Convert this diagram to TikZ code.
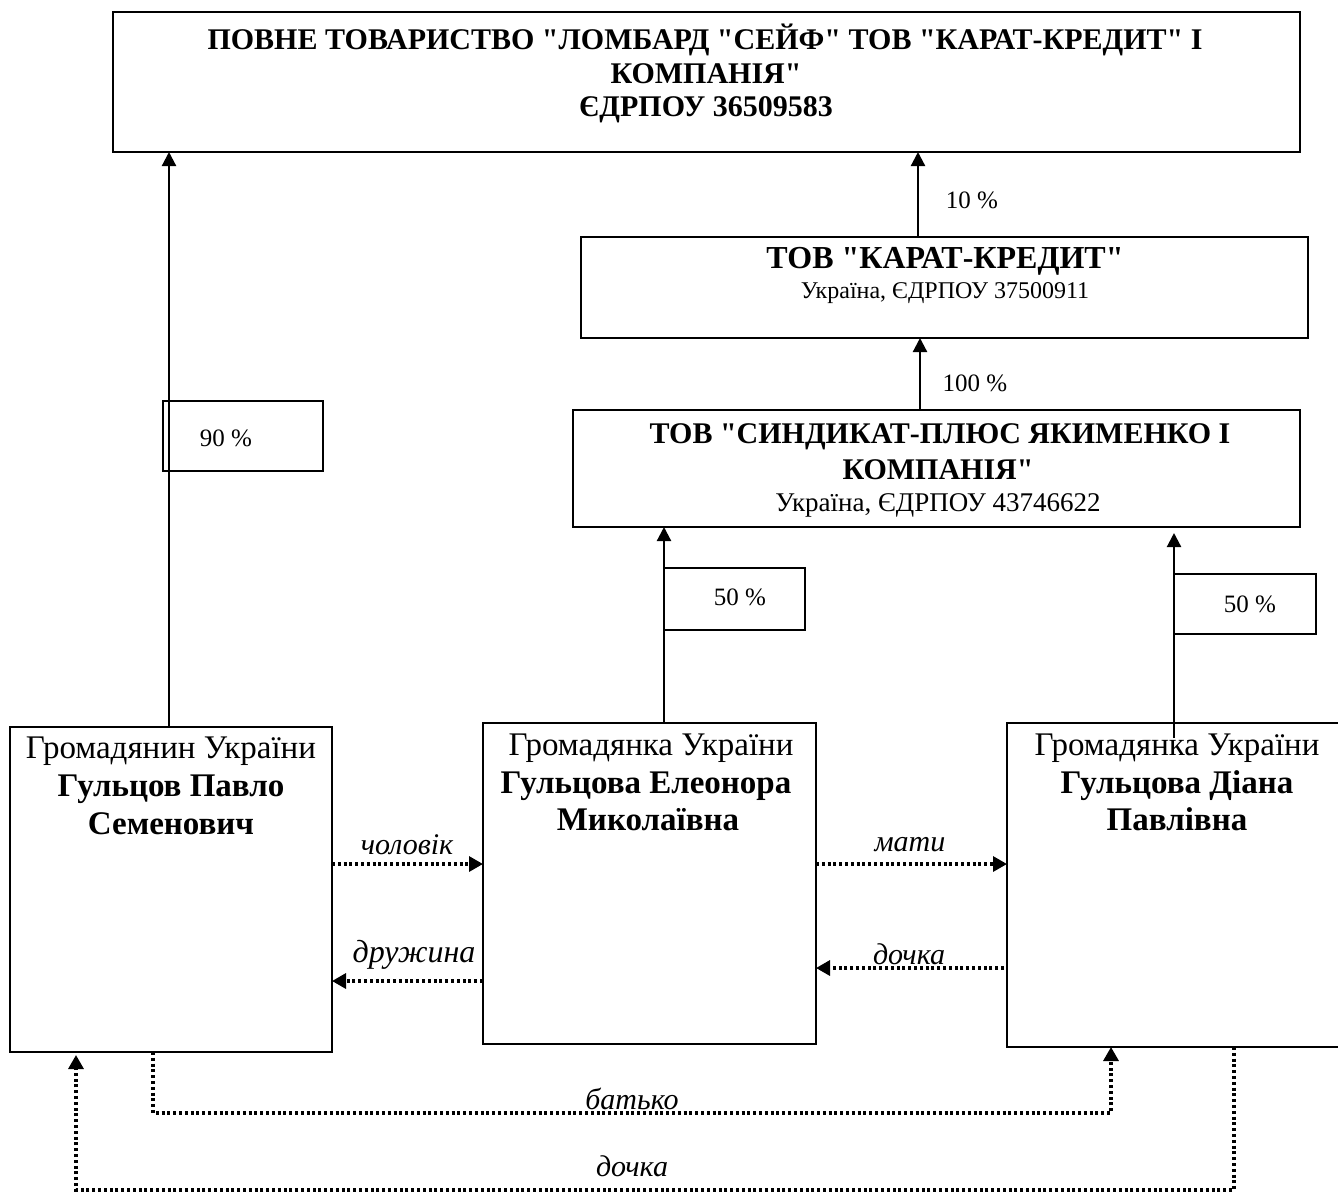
\documentclass[tikz,border=0pt]{standalone}
\usepackage{fontspec}
\setmainfont{Liberation Serif}[Ligatures=TeXOff]
\usetikzlibrary{arrows.meta,calc}
\tikzset{
  box/.style={draw, line width=2pt, inner sep=0pt, outer sep=0pt, anchor=north west},
  pbox/.style={draw, line width=1.6pt, inner sep=0pt, outer sep=0pt, anchor=north west},
  arr/.style={line width=2.2pt, -{Triangle[length=14pt,width=14pt]}},
  rel/.style={line width=3.2pt, dash pattern=on 3pt off 2.8pt, -{Triangle[length=14pt,width=15pt]}},
  txt/.style={anchor=base, inner sep=0pt},
  big/.style={font=\bfseries\fontsize{30}{34}\selectfont},
  nameb/.style={font=\bfseries\fontsize{33}{38}\selectfont},
  reg/.style={font=\fontsize{33}{38}\selectfont},
  pct/.style={font=\fontsize{25}{28}\selectfont},
  lab/.style={font=\itshape\fontsize{30}{34}\selectfont},
}
\begin{document}
\begin{tikzpicture}[x=1pt,y=-1pt]
\useasboundingbox (0,0) rectangle (1338,1195);
% boxes
\node[box, minimum width=1187pt, minimum height=140pt] (top) at (113,12) {};
\node[box, minimum width=727pt, minimum height=101pt] (karat) at (581,237) {};
\node[box, minimum width=727pt, minimum height=117pt] (sind) at (573,410) {};
\node[box, minimum width=322pt, minimum height=325pt] (pavlo) at (10,727) {};
\node[box, minimum width=333pt, minimum height=321pt] (eleo) at (483,723) {};
\node[box, minimum width=340pt, minimum height=324pt] (diana) at (1007,723) {};
\node[pbox, minimum width=160pt, minimum height=70pt] (p90) at (163,401) {};
\node[pbox, minimum width=141pt, minimum height=62pt] (p50a) at (664,568) {};
\node[pbox, minimum width=142pt, minimum height=60pt] (p50b) at (1174,574) {};
% texts
\node[txt, big] (t1) at (705,49) {ПОВНЕ ТОВАРИСТВО "ЛОМБАРД "СЕЙФ" ТОВ "КАРАТ-КРЕДИТ" І};
\node[txt, big] (t2) at (706,83) {КОМПАНІЯ"};
\node[txt, big] (t3) at (706,116) {ЄДРПОУ 36509583};
\node[txt, font=\bfseries\fontsize{32}{36}\selectfont] (k1) at (945,268) {ТОВ "КАРАТ-КРЕДИТ"};
\node[txt, font=\fontsize{24}{28}\selectfont] (k2) at (945,298) {Україна, ЄДРПОУ 37500911};
\node[txt, big] (s1) at (940,443) {ТОВ "СИНДИКАТ-ПЛЮС ЯКИМЕНКО І};
\node[txt, big] (s2) at (938,479) {КОМПАНІЯ"};
\node[txt, font=\fontsize{27}{30}\selectfont] (s3) at (938,511) {Україна, ЄДРПОУ 43746622};
\node[txt, reg] (a1) at (171,758) {Громадянин України};
\node[txt, nameb] (a2) at (171,796) {Гульцов Павло};
\node[txt, nameb] (a3) at (171,834) {Семенович};
\node[txt, reg] (b1) at (651,755) {Громадянка України};
\node[txt, nameb] (b2) at (646,793) {Гульцова Елеонора};
\node[txt, nameb] (b3) at (648,830) {Миколаївна};
\node[txt, reg] (c1) at (1177,755) {Громадянка України};
\node[txt, nameb] (c2) at (1177,793) {Гульцова Діана};
\node[txt, nameb] (c3) at (1177,830) {Павлівна};
\node[pct] (l10) at (972,200) {10 \%};
\node[pct] (l100) at (975,383) {100 \%};
\node[pct] (l90) at (226,438) {90 \%};
\node[pct] (l50a) at (740,597) {50 \%};
\node[pct] (l50b) at (1250,604) {50 \%};
\node[lab] at (407,845) {чоловік};
\node[lab, font=\itshape\fontsize{32}{36}\selectfont] at (414,955) {дружина};
\node[lab] at (910,845) {мати};
\node[lab] at (909,954) {дочка};
\node[lab] at (632,1099) {батько};
\node[lab] at (632,1166) {дочка};
% connector positions
\coordinate (xP) at (169,0);
\coordinate (xK) at (918,0);
\coordinate (xS) at (920,0);
\coordinate (xE) at (664,0);
\coordinate (xD) at (1174,0);
\coordinate (xF1) at (153,0);
\coordinate (xF2) at (1111,0);
\coordinate (xG1) at (1234,0);
\coordinate (xG2) at (76,0);
\coordinate (y1) at (0,864);
\coordinate (y2) at (0,981);
\coordinate (y3) at (0,968);
\coordinate (y4) at (0,1113);
\coordinate (y5) at (0,1190);
% ownership arrows
\draw[arr] (pavlo.north -| xP) -- (top.south -| xP);
\draw[arr] (karat.north -| xK) -- (top.south -| xK);
\draw[arr] (sind.north -| xS) -- (karat.south -| xS);
\draw[arr] (eleo.north -| xE) -- (sind.south -| xE);
\draw[arr] ([yshift=-15pt]diana.north -| xD) -- ([yshift=-6pt]sind.south -| xD);
% relations
\draw[rel] (pavlo.east |- y1) -- (eleo.west |- y1);
\draw[rel] (eleo.west |- y2) -- (pavlo.east |- y2);
\draw[rel] (eleo.east |- y1) -- (diana.west |- y1);
\draw[rel] ([xshift=-3pt]diana.west |- y3) -- (eleo.east |- y3);
\draw[rel] (pavlo.south -| xF1) -- (xF1 |- y4) -- (xF2 |- y4) -- (diana.south -| xF2);
\draw[rel] (diana.south -| xG1) -- (xG1 |- y5) -- (xG2 |- y5) -- ([yshift=-3pt]pavlo.south -| xG2);
\end{tikzpicture}
\end{document}
